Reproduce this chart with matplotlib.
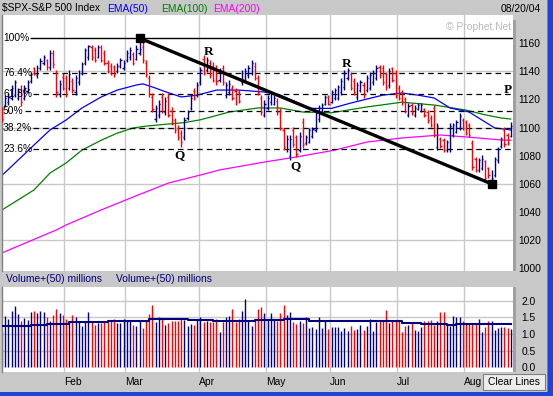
import numpy as np
import matplotlib
matplotlib.use("Agg")
import matplotlib.pyplot as plt
from matplotlib.patches import Rectangle
from matplotlib.transforms import blended_transform_factory

plt.rcParams['font.family'] = ['Liberation Sans', 'DejaVu Sans']

# === Daily S&P 500 bars, Jan 2 - Aug 20 2004 ===
high = [1114.6, 1123, 1124.5, 1130, 1133.7, 1128, 1130, 1130, 1133.7, 1139.4,
        1143, 1144.4, 1149.4, 1151.5, 1149, 1155, 1155, 1141, 1133.7, 1138.7,
        1137, 1140.8, 1135, 1137, 1140.8, 1146.5, 1156.5, 1158.6, 1158.6, 1157,
        1158.6, 1158.6, 1155, 1148, 1145.8, 1144.4, 1145.8, 1149.4, 1148, 1155,
        1157.2, 1153.6, 1158.6, 1163.5, 1160.7, 1148, 1137.3, 1124.5, 1116, 1119.5,
        1124.5, 1121.7, 1124.5, 1114.6, 1106.8, 1101.8, 1098.3, 1107.5, 1112.4, 1123,
        1128, 1132.3, 1143, 1151.5, 1150, 1148, 1146.5, 1144.4, 1142.3, 1144.4,
        1132.3, 1133.7, 1130, 1128, 1126.6, 1140.8, 1142.3, 1144.4, 1148, 1146.5,
        1137.3, 1123, 1119.5, 1123, 1125.2, 1123, 1121, 1114, 1099.7, 1094.7,
        1094.7, 1100.4, 1094.7, 1096.8, 1106.8, 1094.7, 1099.7, 1100.4, 1112.4, 1116,
        1117.4, 1123, 1123, 1126.6, 1128, 1130.2, 1135.2, 1140.8, 1142.3, 1139.4,
        1135.2, 1132.3, 1133.7, 1132.3, 1137.3, 1139.4, 1140.8, 1144.4, 1144.4, 1144.4,
        1139.4, 1142.3, 1143, 1140.8, 1130.2, 1126.6, 1121.7, 1117.4, 1117.4, 1116,
        1117.4, 1117.4, 1113.8, 1112.4, 1109, 1116, 1103.2, 1093.3, 1092.6, 1091.2,
        1103.2, 1103.2, 1105.3, 1110.3, 1106.8, 1105.3, 1103.2, 1091.2, 1079.1, 1078.4,
        1080.5, 1077, 1072, 1070, 1079.1, 1086.2, 1093.3, 1100.4, 1096.1, 1103.9]
low = [1104, 1114.6, 1116, 1119.5, 1121.7, 1119.5, 1115, 1119.5, 1124.5, 1131.6,
       1137.3, 1135.2, 1140.8, 1144.4, 1141, 1140.8, 1142, 1121.7, 1121.7, 1126.6,
       1122, 1126.6, 1124.5, 1123, 1130.2, 1137.3, 1144.4, 1148, 1148, 1146.5,
       1149.4, 1146.5, 1144.4, 1138.7, 1137.3, 1136, 1138.7, 1142.3, 1140.8, 1146.5,
       1148, 1144.4, 1148, 1151.5, 1146, 1136, 1121.7, 1111, 1104, 1106.8,
       1110, 1109, 1107.5, 1101.8, 1096.1, 1091.2, 1086.2, 1091.2, 1105.3, 1112.4,
       1119.5, 1121.7, 1130.2, 1137.3, 1139.4, 1135.2, 1132.3, 1130.2, 1132.3, 1130.2,
       1121, 1123, 1119.5, 1116, 1117.4, 1130.2, 1132.3, 1135.2, 1137.3, 1133.7,
       1123, 1109, 1107.5, 1112.4, 1116, 1116, 1109, 1098.3, 1084.1, 1082.6,
       1077, 1086.2, 1079.1, 1082.6, 1085.5, 1087.6, 1089, 1092.6, 1096.8, 1104,
       1111, 1116, 1116, 1117.4, 1119.5, 1119.5, 1123, 1126.6, 1133.7, 1126.6,
       1123, 1119.5, 1125.2, 1121, 1125.2, 1126.6, 1130.2, 1133.7, 1135.2, 1130.2,
       1126.6, 1128, 1132.3, 1121, 1119.5, 1116, 1110.3, 1107.5, 1109, 1107.5,
       1112.4, 1111, 1107.5, 1103.2, 1100.4, 1093.3, 1084.1, 1085.5, 1082.6, 1082.6,
       1082.6, 1093.3, 1096.1, 1098.3, 1098.3, 1094.7, 1093.3, 1070, 1068.4, 1068.4,
       1069.9, 1062.8, 1064.2, 1060, 1064.9, 1074.8, 1085.5, 1086.2, 1087.6, 1093.3]
open_ = [1112, 1116, 1118, 1121, 1123, 1121, 1127, 1121, 1126, 1133,
         1142, 1137, 1142, 1146, 1148, 1143, 1153, 1139, 1124, 1136,
         1135, 1128, 1133, 1125, 1132, 1139, 1146, 1150, 1157, 1155,
         1150, 1157, 1153, 1146, 1144, 1143, 1140, 1144, 1142, 1148,
         1150, 1152, 1149, 1153, 1157, 1146, 1135, 1122, 1106, 1109,
         1122, 1111, 1122, 1112, 1105, 1100, 1096, 1093, 1107, 1114,
         1126, 1123, 1132, 1149, 1141, 1146, 1144, 1142, 1134, 1142,
         1123, 1125, 1128, 1126, 1125, 1132, 1134, 1137, 1139, 1144,
         1135, 1121, 1109, 1114, 1118, 1117, 1119, 1112, 1098, 1085,
         1080, 1098, 1093, 1084, 1104, 1089, 1090, 1094, 1098, 1106,
         1112, 1117, 1122, 1118, 1121, 1121, 1125, 1129, 1135, 1138,
         1133, 1122, 1127, 1130, 1127, 1128, 1132, 1135, 1143, 1142,
         1138, 1130, 1142, 1139, 1128, 1125, 1120, 1109, 1116, 1109,
         1113, 1112, 1113, 1111, 1107, 1114, 1086, 1092, 1091, 1084,
         1085, 1095, 1097, 1100, 1105, 1104, 1102, 1089, 1078, 1070,
         1071, 1076, 1071, 1062, 1066, 1077, 1087, 1098, 1095, 1094]
close = [1106, 1121, 1122, 1128, 1132, 1126, 1118, 1128, 1132, 1138,
         1138, 1142, 1147, 1150, 1143, 1153, 1145, 1125, 1131, 1128,
         1124, 1138, 1127, 1135, 1139, 1145, 1155, 1158, 1150, 1148,
         1157, 1148, 1146, 1140, 1139, 1138, 1144, 1148, 1146, 1153,
         1155, 1146, 1156, 1156, 1148, 1138, 1124, 1113, 1114, 1117,
         1112, 1119, 1109, 1103, 1098, 1093, 1090, 1105, 1111, 1121,
         1121, 1130, 1141, 1139, 1148, 1137, 1134, 1133, 1140, 1132,
         1130, 1131, 1121, 1118, 1119, 1139, 1140, 1142, 1146, 1135,
         1125, 1111, 1117, 1121, 1124, 1121, 1111, 1100, 1086, 1092,
         1092, 1088, 1081, 1094, 1088, 1093, 1098, 1099, 1110, 1114,
         1116, 1122, 1117, 1125, 1127, 1129, 1133, 1139, 1141, 1128,
         1125, 1130, 1132, 1123, 1135, 1137, 1139, 1142, 1137, 1132,
         1129, 1140, 1134, 1123, 1121, 1118, 1112, 1115, 1110, 1114,
         1116, 1116, 1109, 1105, 1102, 1095, 1101, 1087, 1084, 1090,
         1101, 1102, 1104, 1108, 1100, 1096, 1095, 1072, 1070, 1077,
         1078, 1064, 1066, 1064, 1078, 1085, 1092, 1088, 1089, 1101]

# volume, millions of shares
volume = [1.10, 1.53, 1.45, 1.68, 1.83, 1.60, 1.40, 1.48, 1.43, 1.65,
          1.68, 1.63, 1.70, 1.65, 1.50, 1.40, 1.58, 1.76, 1.63, 1.58,
          1.45, 1.40, 1.58, 1.50, 1.38, 1.23, 1.38, 1.65, 1.40, 1.26,
          1.33, 1.33, 1.40, 1.35, 1.38, 1.46, 1.33, 1.33, 1.46, 1.38,
          1.43, 1.28, 1.23, 1.38, 1.18, 1.38, 1.60, 1.86, 1.35, 1.50,
          1.48, 1.26, 1.33, 1.40, 1.40, 1.40, 1.45, 1.43, 1.25, 1.31,
          1.26, 1.45, 1.50, 1.36, 1.38, 1.35, 1.35, 1.46, 1.05, 1.35,
          1.50, 1.53, 1.75, 1.35, 1.45, 1.70, 2.06, 1.43, 1.23, 1.43,
          1.76, 1.82, 1.63, 1.46, 1.63, 1.41, 1.40, 1.63, 1.86, 1.58,
          1.65, 1.35, 1.31, 1.40, 1.33, 1.50, 1.18, 1.20, 1.16, 1.50,
          1.18, 1.40, 1.15, 1.20, 1.20, 1.20, 1.08, 1.18, 1.08, 1.23,
          1.13, 1.16, 1.28, 1.13, 1.23, 1.45, 1.08, 1.36, 1.40, 1.40,
          1.71, 1.33, 1.38, 1.38, 1.40, 1.05, 1.23, 1.28, 1.35, 1.13,
          1.10, 1.20, 1.40, 1.38, 1.41, 1.28, 1.40, 1.65, 1.65, 1.31,
          1.25, 1.55, 1.50, 1.50, 1.38, 1.33, 1.33, 1.33, 1.33, 1.45,
          1.05, 1.20, 1.38, 1.38, 1.13, 1.18, 1.20, 1.20, 1.18, 1.15]

# 50-day volume average (step line)
vol_ma_idx = [0, 9, 14, 21, 26, 33, 41, 46, 58, 66, 79, 88, 96, 110, 116, 125, 131, 139, 142, 150, 159]
vol_ma = [1.23, 1.26, 1.30, 1.35, 1.37, 1.39, 1.40, 1.46, 1.43, 1.39, 1.42, 1.45, 1.40,
          1.38, 1.39, 1.34, 1.31, 1.27, 1.31, 1.30, 1.30]

# moving averages sampled along the chart
ema50_idx = [0, 10, 15, 20, 25, 31, 36, 42, 44, 47, 51, 56, 61, 67, 74, 82, 87, 92, 96, 103,
             109, 119, 125, 130, 135, 140, 146, 151, 154, 159]
ema50 = [1066, 1087.6, 1098.3, 1105.3, 1113.9, 1121.7, 1126.6, 1130.2, 1131, 1128.8,
         1125.5, 1121.7, 1123, 1126.6, 1126.6, 1125.2, 1123, 1118, 1113.6, 1113.6,
         1117.4, 1123, 1124.5, 1123, 1121, 1113.9, 1111, 1103.9, 1099.7, 1098.3]
ema100_idx = [0, 10, 15, 20, 25, 31, 36, 41, 45, 52, 57, 62, 71, 80, 87, 94, 103, 114, 125,
              135, 145, 151, 156, 159]
ema100 = [1041.5, 1055.7, 1067.7, 1074.8, 1084, 1091, 1096, 1099.7, 1101, 1102.5,
          1103.5, 1105.5, 1111, 1113.9, 1113.9, 1111, 1110.5, 1114.6, 1118, 1116,
          1112.4, 1109, 1106.8, 1106]
ema200_idx = [0, 17, 20, 31, 41, 52, 62, 68, 82, 92, 104, 114, 125, 137, 145, 156, 159]
ema200 = [1011, 1027.3, 1030.8, 1041.5, 1050.7, 1060.6, 1066.3, 1069.9, 1075.5, 1079.1,
          1084, 1089.7, 1092.6, 1094.7, 1093.3, 1091.2, 1091]

months = ['Feb', 'Mar', 'Apr', 'May', 'Jun', 'Jul', 'Aug']
month_start = [20, 39, 62, 83, 103, 124, 145]

fib_levels = [1.0, 0.764, 0.618, 0.5, 0.382, 0.236]
fib_labels = ['100%', '76.4%', '61.8%', '50%', '38.2%', '23.6%']

price_ticks = list(range(1000, 1161, 20))
vol_ticks = [0.0, 0.5, 1.0, 1.5, 2.0]

# === Figure set-up (pixel based, 553 x 396) ===
W, H = 553, 396
GRAY = '#c8c8c8'
GRID = '#c8c8c8'
RED = '#ff0000'
NAVY = '#000080'
FS = 7.4

fig = plt.figure(figsize=(W / 100, H / 100), dpi=100, facecolor=GRAY)


def px_axes(x0, y0, x1, y1):
    return fig.add_axes([x0 / W, 1 - y1 / H, (x1 - x0) / W, (y1 - y0) / H])


ax = px_axes(1.5, 15, 513, 270.5)
axv = px_axes(1.5, 286.7, 513, 371.7)

idx = np.arange(len(close))
cols = [RED if c < o else NAVY for o, c in zip(open_, close)]
xmin, xmax = -0.16, 159.69

for a in (ax, axv):
    a.set_facecolor('white')
    a.set_xlim(xmin, xmax)
    for s in a.spines.values():
        s.set_visible(False)
    a.spines['left'].set_visible(True)
    a.spines['left'].set_color('#808080')
    a.spines['left'].set_linewidth(1.0)
    a.set_xticks([])
    for m in month_start:
        a.axvline(m - 0.5, color=GRID, lw=1.0, zorder=0.5)

# === Price panel ===
ax.set_ylim(998.5, 1179.9)
for g in (1020, 1060, 1100, 1140):
    ax.axhline(g, color=GRID, lw=1.0, zorder=0.5)

ax.plot(ema200_idx, ema200, color='#ff00ff', lw=0.9, zorder=2)
ax.plot(ema100_idx, ema100, color='#008000', lw=0.9, zorder=2)
ax.plot(ema50_idx, ema50, color='#0000ff', lw=0.9, zorder=2)

ax.vlines(idx, low, high, colors=cols, lw=1.0, zorder=3)
ax.hlines(open_, idx - 0.4, idx, colors=cols, lw=1.0, zorder=3)
ax.hlines(close, idx, idx + 0.4, colors=cols, lw=1.0, zorder=3)

# fibonacci retracement from the March high to the August low
pk = int(np.argmax(high))
tr = int(np.argmin(low))
top, bot = high[pk], low[tr]
ytrans = blended_transform_factory(ax.transAxes, ax.transData)
fig.canvas.draw()
for lvl, lab in zip(fib_levels, fib_labels):
    p = bot + lvl * (top - bot)
    t = ax.text(0.003, p, lab, transform=ytrans, fontsize=FS, ha='left', va='center', zorder=5)
    x_end = t.get_window_extent(fig.canvas.get_renderer()).x1
    x_start = ax.transData.inverted().transform((x_end + 1, 0))[0]
    if lvl == 1.0:
        ax.hlines(p, x_start, xmax, colors='black', lw=1.0, zorder=2.5)
    else:
        ax.hlines(p, x_start, xmax, colors='black', lw=0.9, linestyles=(0, (4.5, 3.2)), zorder=2.5)

ax.plot([pk, tr], [top, bot], color='black', lw=2.4, solid_capstyle='butt', zorder=4)
ax.plot([pk, tr], [top, bot], 's', color='black', ms=6, zorder=4)

for lab, x, y in [('R', 64.4, 1153.6), ('R', 107.8, 1145.1), ('Q', 55.6, 1080.5),
                  ('Q', 91.6, 1072.7), ('P', 158.1, 1126.6)]:
    ax.text(x, y, lab, fontsize=9.5, fontweight='bold', family='Liberation Serif',
            ha='center', va='center', zorder=5)

ax.yaxis.tick_right()
ax.set_yticks(price_ticks)
ax.set_yticklabels([str(v) for v in price_ticks])
ax.tick_params(axis='y', length=0, pad=3.6, labelsize=FS)

# === Volume panel ===
axv.set_ylim(-0.132, 2.424)
for g in (0.5, 1.0, 1.5, 2.0):
    axv.axhline(g, color=GRID, lw=1.0, zorder=0.5)
axv.vlines(idx, 0, volume, colors=cols, lw=1.0, zorder=2)
axv.plot(vol_ma_idx, vol_ma, drawstyle='steps-post', color=NAVY, lw=1.5, zorder=3)
axv.yaxis.tick_right()
axv.set_yticks(vol_ticks)
axv.set_yticklabels([f'{v:.1f}' for v in vol_ticks])
axv.tick_params(axis='y', length=0, pad=6.2, labelsize=FS)

mtrans = blended_transform_factory(axv.transData, fig.transFigure)
for m, name in zip(month_start, months):
    fig.text(m - 0.5, 1 - 381.7 / H, name, transform=mtrans, fontsize=FS, ha='left', va='center')

# === Header, labels and window chrome ===
hy = 1 - 8.5 / H
fig.text(2 / W, hy, r'\$SPX-S&P 500 Index', fontsize=FS, va='center')
fig.text(107 / W, hy, 'EMA(50)', fontsize=FS, va='center', color='#0000ff')
fig.text(161 / W, hy, 'EMA(100)', fontsize=FS, va='center', color='#008000')
fig.text(213 / W, hy, 'EMA(200)', fontsize=FS, va='center', color='#ff00ff')
fig.text(541 / W, hy, '08/20/04', fontsize=FS, va='center', ha='right')
fig.text(446 / W, 1 - 27 / H, '\u00a9 Prophet.Net', fontsize=FS, va='center', color='#b8b8b8')

for x in (6, 116):
    fig.text(x / W, 1 - 279 / H, 'Volume+(50) millions', fontsize=FS, va='center', color=NAVY)

fig.patches.append(Rectangle((513 / W, 1 - 271 / H), 3 / W, 251 / H, transform=fig.transFigure,
                             facecolor='#a0a0a0', edgecolor='none'))
fig.patches.append(Rectangle((513 / W, 1 - 372 / H), 3 / W, 85 / H, transform=fig.transFigure,
                             facecolor='#a0a0a0', edgecolor='none'))
fig.patches.append(Rectangle((547 / W, 0), 1 / W, 1, transform=fig.transFigure,
                             facecolor='#808080', edgecolor='none'))
fig.patches.append(Rectangle((548 / W, 0), 5 / W, 1, transform=fig.transFigure,
                             facecolor='#1c44d8', edgecolor='none'))
fig.patches.append(Rectangle((0, 0), 1, 4 / H, transform=fig.transFigure,
                             facecolor='#1c44d8', edgecolor='none'))

# "Clear Lines" button
fig.patches.append(Rectangle((483 / W, 1 - 390 / H), 62 / W, 16 / H, transform=fig.transFigure,
                             facecolor='#ececec', edgecolor='#808080', lw=0.8))
fig.text(514 / W, 1 - 382 / H, 'Clear Lines', fontsize=FS, ha='center', va='center')

fig.savefig('out.png', dpi=100, facecolor=GRAY)
